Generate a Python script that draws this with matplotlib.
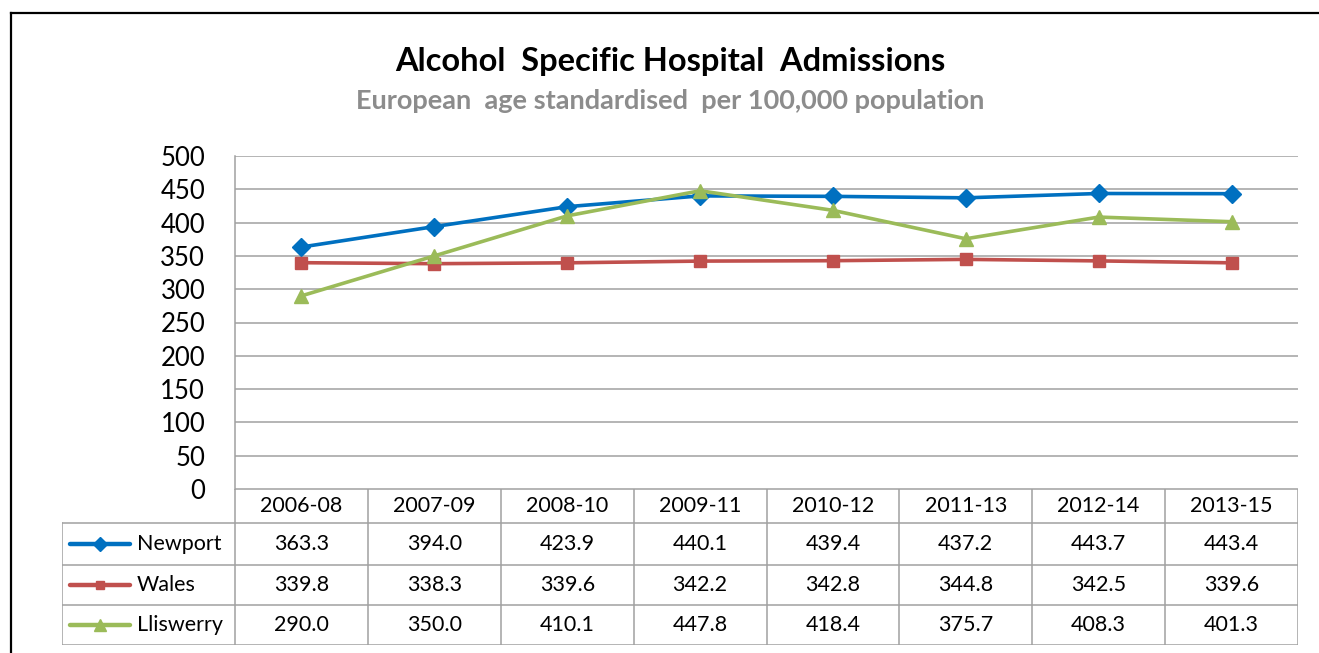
import matplotlib
matplotlib.use("Agg")
import matplotlib.pyplot as plt
from matplotlib.lines import Line2D

plt.rcParams['font.family'] = ['Lato', 'DejaVu Sans']

periods = ["2006-08", "2007-09", "2008-10", "2009-11", "2010-12", "2011-13", "2012-14", "2013-15"]
series_names = ["Newport", "Wales", "Lliswerry"]
newport = [363.3, 394.0, 423.9, 440.1, 439.4, 437.2, 443.7, 443.4]
wales = [339.8, 338.3, 339.6, 342.2, 342.8, 344.8, 342.5, 339.6]
lliswerry = [290.0, 350.0, 410.1, 447.8, 418.4, 375.7, 408.3, 401.3]
yticks = [0, 50, 100, 150, 200, 250, 300, 350, 400, 450, 500]

series_values = [newport, wales, lliswerry]
colors = ["#0070C0", "#C0504D", "#9BBB59"]
markers = ["D", "s", "^"]
msizes = [9, 8, 10]

W, H = 1319, 653
fig = plt.figure(figsize=(W / 100, H / 100), dpi=100)

def fx(px):
    return px / W

def fy(py):
    return 1 - py / H

# outer border (top and left edges visible)
fig.add_artist(Line2D([fx(11), fx(1330)], [fy(12.5), fy(12.5)], transform=fig.transFigure,
                      color="black", linewidth=1.6))
fig.add_artist(Line2D([fx(11), fx(11)], [fy(12.5), fy(700)], transform=fig.transFigure,
                      color="black", linewidth=1.6))

# titles
fig.text(fx(670), fy(61), "Alcohol  Specific Hospital  Admissions", ha="center",
         va="center", fontsize=23.5, fontweight="bold", color="black")
fig.text(fx(670), fy(101), "European  age standardised  per 100,000 population",
         ha="center", va="center", fontsize=19.5, fontweight="bold", color="#8C8C8C")

# main plot area
L, R, T, B = 235, 1298, 156, 489
ax = fig.add_axes([fx(L), fy(B), fx(R) - fx(L), fy(T) - fy(B)])
n = len(periods)
x = list(range(n))
for vals, c, m, ms in zip(series_values, colors, markers, msizes):
    ax.plot(x, vals, color=c, linewidth=2.6, marker=m, markersize=ms,
            markeredgecolor=c, markerfacecolor=c, zorder=3)
ax.set_xlim(-0.5, n - 0.5)
ax.set_ylim(0, 500)
ax.set_yticks(yticks)
ax.set_yticklabels([str(t) for t in yticks], fontsize=18.5)
ax.set_xticks([])
ax.tick_params(axis="y", length=0, pad=21.5)
ax.grid(axis="y", color="#A0A0A0", linewidth=1.1)
ax.set_axisbelow(True)
for s in ["top", "right", "bottom"]:
    ax.spines[s].set_visible(False)
ax.spines["left"].set_color("#A0A0A0")
ax.spines["left"].set_linewidth(1.1)

# data table below
TL, TB = 62, 645
col_w = (R - L) / n
left_units = -0.5 - (L - TL) / col_w
tax = fig.add_axes([fx(TL), fy(TB), fx(R) - fx(TL), fy(B) - fy(TB)])
tax.set_xlim(left_units, n - 0.5)
row_edges = [489, 523, 565, 605, 645]
tax.set_ylim(TB, B)
tax.axis("off")
gc = "#A0A0A0"
lw = 1.1
tax.plot([-0.5, n - 0.5], [row_edges[0], row_edges[0]], color=gc, lw=lw)
for ry in row_edges[1:]:
    tax.plot([left_units, n - 0.5], [ry, ry], color=gc, lw=lw)
for i in range(n + 1):
    tax.plot([i - 0.5, i - 0.5], [row_edges[0], row_edges[-1]], color=gc, lw=lw)
tax.plot([left_units, left_units], [row_edges[1], row_edges[-1]], color=gc, lw=lw)

hdr_y = (row_edges[0] + row_edges[1]) / 2
for i, p in enumerate(periods):
    tax.text(i, hdr_y, p, ha="center", va="center", fontsize=15.5)

for r, (name, vals, c, m, ms) in enumerate(zip(series_names, series_values, colors, markers, msizes)):
    cy = (row_edges[r + 1] + row_edges[r + 2]) / 2
    for i, v in enumerate(vals):
        tax.text(i, cy, f"{v:.1f}", ha="center", va="center", fontsize=15.5)
    lx0 = left_units + 8 / col_w
    lx1 = left_units + 68 / col_w
    tax.plot([lx0, lx1], [cy, cy], color=c, lw=3.2, solid_capstyle="round")
    tax.plot([(lx0 + lx1) / 2], [cy], marker=m, color=c, markersize=ms * 0.8)
    tax.text(left_units + 75 / col_w, cy, name, ha="left", va="center", fontsize=15.5)

fig.savefig("out.png", dpi=100)
